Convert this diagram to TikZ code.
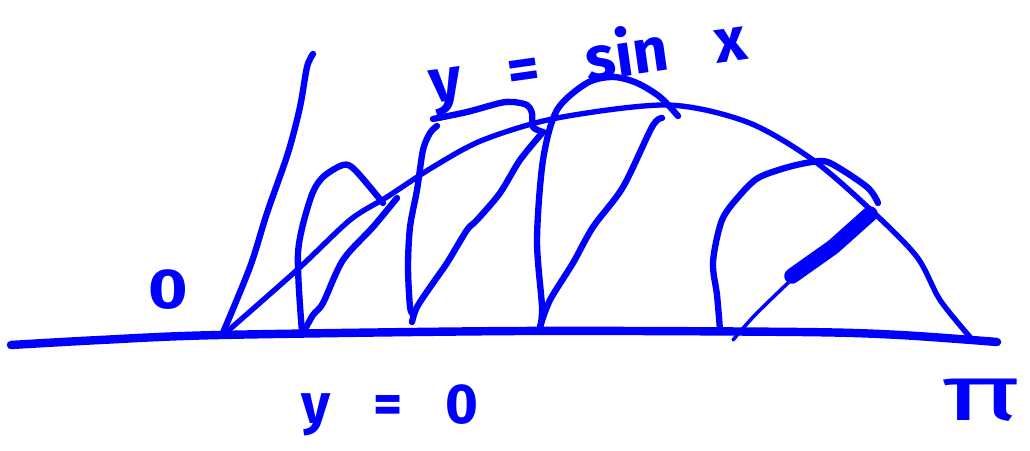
\documentclass[tikz,border=0pt]{standalone}
\usepackage{fontspec}
\newfontfamily\handfont[WordSpace=3.2]{Fira Sans}
\begin{document}
\begin{tikzpicture}[
  x=0.025cm, y=-0.025cm,
  pen/.style={draw=blue,line width=4.5pt,line cap=round,line join=round},
  axis/.style={pen,line width=6pt},
  curve/.style={pen,line width=3.8pt},
  thin/.style={pen,line width=2.5pt},
  thick/.style={pen,line width=11pt},
  lbl/.style={text=blue,inner sep=0pt,font=\handfont\bfseries},
]
\useasboundingbox (0,0) rectangle (1030,451);

% ---- Axis line and the rising stroke at the origin
\draw[axis] plot[smooth] coordinates {(11,345) (100,340) (220,335) (520,331) (800,332) (900,335) (997,342)};
\draw[pen] plot[smooth] coordinates {(222,335) (250,267) (267,213) (288,153) (300,107) (307,67) (313,54)};

% ---- The curve y = sin x
\draw[curve] plot[smooth] coordinates {(222,336) (297,270) (350,220) (387,197) (433,167) (483,140) (557,118) (667,105) (747,122) (813,160) (873,212) (917,257) (940,300) (970,337)};

% ---- Arch 1
\draw[pen] plot[smooth] coordinates {(302,332) (298,253) (310,200) (322,178) (343,165) (355,170) (383,203)};
\draw[pen] plot[smooth] coordinates {(397,198) (373,227) (343,260) (323,303) (313,315) (303,333)};

% ---- Arch 2
\draw[pen] plot[smooth] coordinates {(437,126) (430,133) (423,150) (417,190) (410,227) (408,267) (410,307) (413,314)};
\draw[pen] plot[smooth] coordinates {(433,119) (467,112) (500,103) (513,102) (527,105) (532,113) (533,127) (543,132)};
\draw[pen] plot[smooth] coordinates {(543,132) (520,160) (500,193) (477,220) (467,230) (447,263) (433,283) (417,307) (412,322)};

% ---- Arch 3
\draw[pen] plot[smooth] coordinates {(540,328) (542,307) (537,240) (543,160) (557,110) (587,83) (613,77) (637,83) (660,97) (678,116)};
\draw[pen] plot[smooth] coordinates {(662,118) (652,127) (623,187) (593,227) (573,263) (550,300) (540,327)};

% ---- Arch 4
\draw[pen] plot[smooth] coordinates {(720,330) (717,295) (713,262) (722,220) (740,195) (758,178) (785,168) (812,162) (830,163) (867,187) (878,203)};
\draw[thin] plot[smooth] coordinates {(733,340) (755,315) (790,281)};
\draw[thick] (792,276) -- (833,247) -- (870,214);

% ---- Labels
\node[lbl,font=\handfont\bfseries\fontsize{40}{44}\selectfont,xscale=1.2] (zero) at (168,290) {0};
\node[lbl,font=\handfont\bfseries\fontsize{40}{44}\selectfont] (ylow) at (390,410) {y = 0};
\node[lbl,font=\handfont\bfseries\fontsize{44}{48}\selectfont,rotate=8] (ysin) at (588,63) {y = sin x};
\node[lbl,font=\handfont\fontsize{56}{60}\selectfont,xscale=1.7] (pi) at (981,400) {π};

\end{tikzpicture}
\end{document}
